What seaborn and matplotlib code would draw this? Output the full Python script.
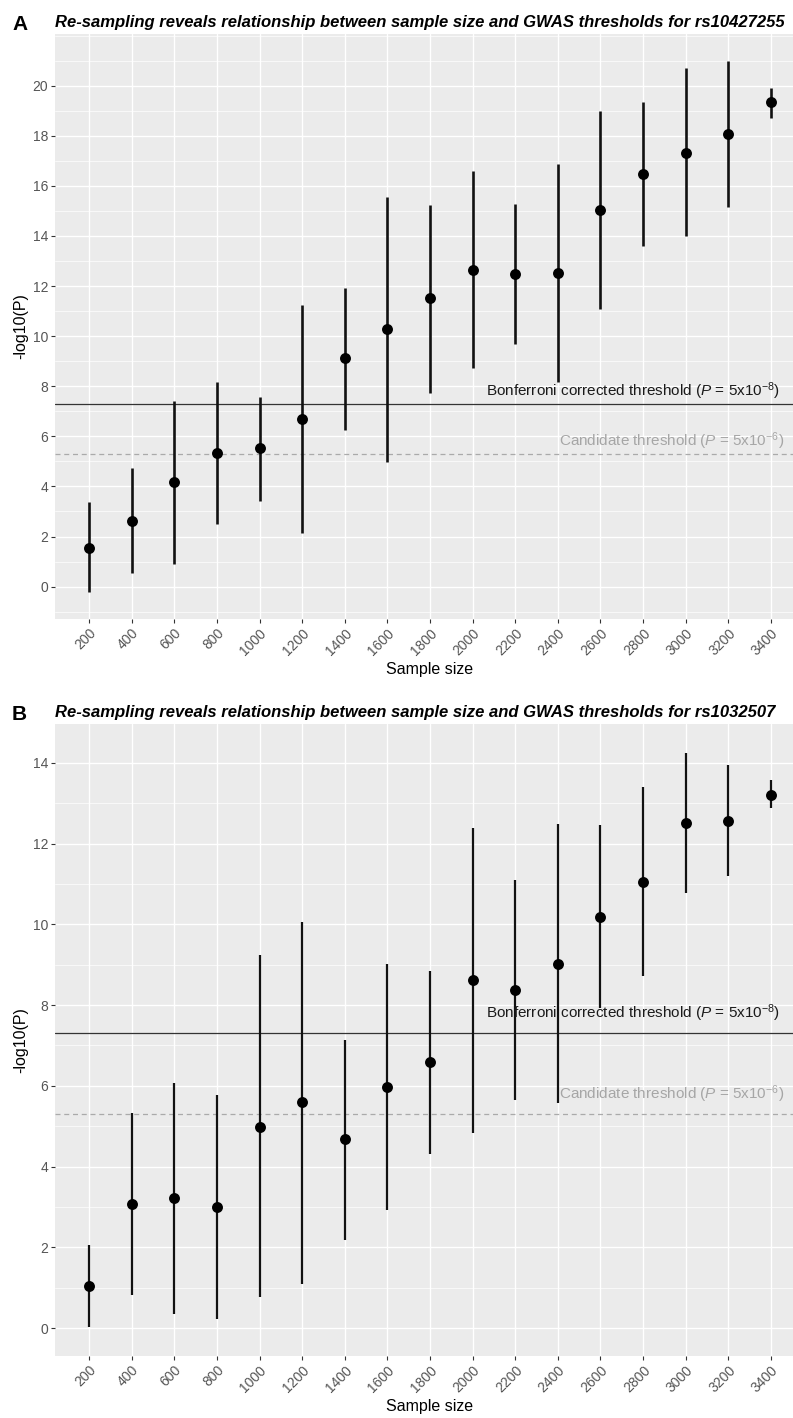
import numpy as np
import pandas as pd
import matplotlib
matplotlib.use("Agg")
import matplotlib.pyplot as plt
from matplotlib.ticker import MultipleLocator, FixedLocator
import seaborn as sns

# ---------------- data ----------------
sample_sizes = [200, 400, 600, 800, 1000, 1200, 1400, 1600, 1800, 2000,
                2200, 2400, 2600, 2800, 3000, 3200, 3400]

a_mean = [1.56, 2.64, 4.18, 5.33, 5.52, 6.70, 9.12, 10.27, 11.52, 12.66,
          12.49, 12.52, 15.05, 16.46, 17.30, 18.08, 19.34]
a_low = [-0.23, 0.54, 0.92, 2.50, 3.40, 2.15, 6.24, 4.98, 7.74, 8.74,
         9.69, 8.15, 11.07, 13.61, 13.98, 15.14, 18.70]
a_high = [3.37, 4.72, 7.43, 8.17, 7.56, 11.23, 11.94, 15.54, 15.23, 16.58,
          15.28, 16.86, 18.99, 19.34, 20.69, 21.00, 19.92]

b_mean = [1.03, 3.07, 3.22, 3.00, 4.99, 5.59, 4.68, 5.97, 6.58, 8.61,
          8.37, 9.02, 10.19, 11.05, 12.52, 12.56, 13.20]
b_low = [0.02, 0.83, 0.34, 0.22, 0.76, 1.10, 2.19, 2.92, 4.31, 4.83,
         5.64, 5.57, 7.92, 8.73, 10.77, 11.19, 12.87]
b_high = [2.06, 5.32, 6.08, 5.77, 9.23, 10.06, 7.14, 9.01, 8.85, 12.38,
          11.09, 12.49, 12.47, 13.40, 14.25, 13.95, 13.57]

bonferroni = -np.log10(5e-8)
candidate = -np.log10(5e-6)

titles = ["Re-sampling reveals relationship between sample size and GWAS thresholds for rs10427255",
          "Re-sampling reveals relationship between sample size and GWAS thresholds for rs1032507"]
panel_letters = ["A", "B"]
y_ticks = [list(range(0, 21, 2)), list(range(0, 15, 2))]

# ---------------- style ----------------
sns.set_theme(style="darkgrid")
plt.rcParams["font.family"] = ["Liberation Sans", "DejaVu Sans"]
plt.rcParams["mathtext.fontset"] = "custom"
plt.rcParams["mathtext.rm"] = "Liberation Sans"
plt.rcParams["mathtext.it"] = "Liberation Sans:italic"
plt.rcParams["mathtext.bf"] = "Liberation Sans:bold"

W, H = 793, 1418
fig = plt.figure(figsize=(W / 100, H / 100), dpi=100)
fig.patch.set_facecolor("white")

# pixel boxes: left, top, right, bottom
boxes = [(55, 34, 805, 619), (55, 724, 805, 1356)]
lw_bars = [1.9, 1.6]
title_sizes = [12, 12]

datasets = [
    pd.DataFrame({"n": sample_sizes, "mean": a_mean, "low": a_low, "high": a_high}),
    pd.DataFrame({"n": sample_sizes, "mean": b_mean, "low": b_low, "high": b_high}),
]

for i, df in enumerate(datasets):
    l, t, r, b = boxes[i]
    ax = fig.add_axes([l / W, 1 - b / H, (r - l) / W, (b - t) / H])
    ax.set_facecolor("#EBEBEB")
    for s in ax.spines.values():
        s.set_visible(False)

    # ggplot-style expansion
    xr = max(sample_sizes) - min(sample_sizes)
    ax.set_xlim(min(sample_sizes) - 0.05 * xr, max(sample_sizes) + 0.05 * xr)
    lo, hi = df["low"].min(), df["high"].max()
    yr = hi - lo
    ax.set_ylim(lo - 0.05 * yr, hi + 0.05 * yr)

    ax.xaxis.set_major_locator(FixedLocator(sample_sizes))
    ax.yaxis.set_major_locator(FixedLocator(y_ticks[i]))
    ax.yaxis.set_minor_locator(MultipleLocator(1))
    ax.grid(which="major", axis="both", color="white", linewidth=1.0)
    ax.grid(which="minor", axis="y", color="white", linewidth=0.5)
    ax.grid(which="minor", axis="x", visible=False)
    ax.set_axisbelow(True)

    # threshold lines
    ax.axhline(bonferroni, color="#333333", linewidth=0.9, zorder=2)
    ax.axhline(candidate, color="#AAAAAA", linewidth=0.9, linestyle=(0, (4, 3)), zorder=2)

    # error bars and points
    ax.vlines(df["n"], df["low"], df["high"], color="#111111", linewidth=lw_bars[i], zorder=3)
    sns.scatterplot(data=df, x="n", y="mean", ax=ax, color="black", s=62,
                    edgecolor="black", linewidth=0, zorder=4, legend=False)

    # labels
    ax.text(2065, bonferroni + 0.5,
            r"Bonferroni corrected threshold ($P$ = 5x10$^{-8}$)",
            ha="left", va="center", fontsize=11, color="#1A1A1A", zorder=5)
    ax.text(2405, candidate + 0.5,
            r"Candidate threshold ($P$ = 5x10$^{-6}$)",
            ha="left", va="center", fontsize=11, color="#A6A6A6", zorder=5)

    ax.set_xticks(sample_sizes)
    ax.set_xticklabels([str(v) for v in sample_sizes], rotation=45,
                       ha="right", rotation_mode="anchor", fontsize=10, color="#555555")
    ax.set_yticks(y_ticks[i])
    ax.set_yticklabels([str(v) for v in y_ticks[i]], fontsize=10, color="#555555")
    ax.tick_params(axis="both", which="major", length=3, width=0.8, color="#333333",
                   pad=2, bottom=True, left=True)
    ax.tick_params(axis="both", which="minor", length=0)

    ax.set_xlabel("Sample size", fontsize=11.5, color="black", labelpad=3)
    ax.set_ylabel("-log10(P)", fontsize=11.5, color="black", labelpad=3)

    fig.text(55 / W, 1 - (t - 12) / H, titles[i], ha="left", va="center",
             fontsize=title_sizes[i], fontweight="bold", fontstyle="italic", color="black")
    fig.text(12 / W, 1 - (t - 10) / H, panel_letters[i], ha="left", va="center",
             fontsize=15, fontweight="bold", color="black")

fig.savefig("out.png", dpi=100)
